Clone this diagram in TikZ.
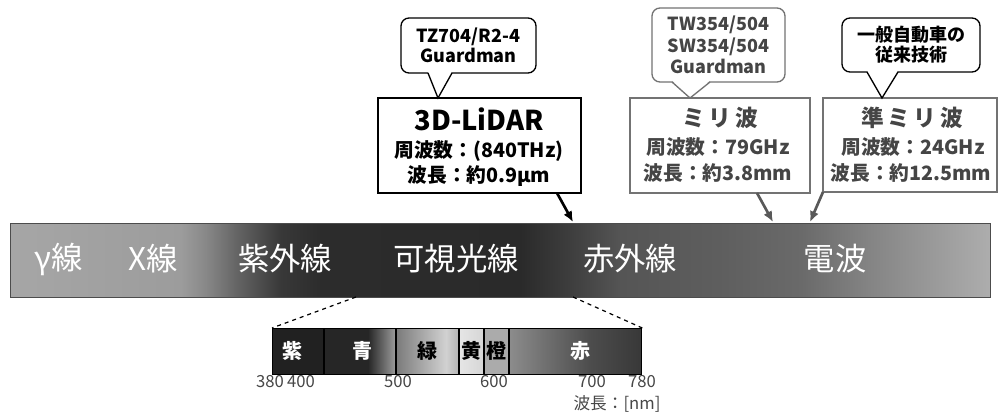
\documentclass[tikz,border=0pt]{standalone}
\usepackage{fontspec}
\setmainfont{Noto Sans CJK JP}
\usetikzlibrary{arrows.meta,calc}
\definecolor{ga}{gray}{0.651}
\definecolor{gb}{gray}{0.612}
\definecolor{gc}{gray}{0.533}
\definecolor{gd}{gray}{0.376}
\definecolor{ge}{gray}{0.22}
\definecolor{gf}{gray}{0.173}
\definecolor{gg}{gray}{0.165}
\definecolor{gh}{gray}{0.235}
\definecolor{gi}{gray}{0.333}
\definecolor{gj}{gray}{0.37}
\definecolor{gk}{gray}{0.415}
\definecolor{gl}{gray}{0.52}
\definecolor{gm}{gray}{0.6}
\definecolor{gn}{gray}{0.68}
\definecolor{softtext}{gray}{0.27}
\definecolor{softline}{gray}{0.45}
\pgfdeclarehorizontalshading{mainbar}{100bp}{color(0bp)=(ga); color(25bp)=(ga); color(33.67bp)=(gb); color(34.95bp)=(gc); color(36.73bp)=(gd); color(38.78bp)=(ge); color(40.82bp)=(gf); color(51.02bp)=(gg); color(53.32bp)=(gh); color(56.12bp)=(gi); color(61.22bp)=(gj); color(65.31bp)=(gk); color(68.88bp)=(gl); color(71.94bp)=(gm); color(75bp)=(gn); color(100bp)=(gn)}
\tikzset{
  callout/.style={draw, fill=white, rounded corners=6pt, line width=1pt, inner sep=0pt, align=center, font=\bfseries\fontsize{13.5}{15}\selectfont},
  infobox/.style={draw, fill=white, line width=1.5pt, inner sep=0pt},
  boxtitle/.style={anchor=base, inner sep=0pt, font=\bfseries\fontsize{20.5}{24}\selectfont},
  boxtitlejp/.style={anchor=base, inner sep=0pt, font=\bfseries\fontsize{17}{20}\selectfont},
  boxbody/.style={anchor=base, inner sep=0pt, font=\bfseries\fontsize{14.8}{17}\selectfont},
  barlabel/.style={text=white, inner sep=0pt, font=\fontsize{23.5}{27}\selectfont},
  seglabel/.style={inner sep=0pt, font=\bfseries\fontsize{15}{18}\selectfont},
  ticklabel/.style={inner sep=0pt, text=black!72, font=\fontsize{12.5}{14}\selectfont},
  pointer/.style={line width=2pt, -{Latex[length=8pt,width=7pt]}},
  tail/.style={line width=1pt},
}
\begin{document}
\begin{tikzpicture}[x=0.75pt,y=-0.75pt]
\useasboundingbox (0,0) rectangle (1000,414);
\fill[white] (0,0) rectangle (1000,414);

% main spectrum bar
\node[draw=black!70, line width=1.1pt, shading=mainbar, minimum width=735pt, minimum height=55.5pt, inner sep=0pt, anchor=north west] (bar) at (10,223) {};
\node[barlabel] (lgamma) at (59,259) {γ線};
\node[barlabel] (lx) at (153,259) {X線};
\node[barlabel] (luv) at (285,259) {紫外線};
\node[barlabel] (lvis) at (456,259) {可視光線};
\node[barlabel] (lir) at (630,259) {赤外線};
\node[barlabel] (lradio) at (835,259) {電波};

% info boxes
\node[infobox, minimum width=152.25pt, minimum height=71.25pt] (lidar) at (479.5,145.5) {};
\node[boxtitle] (lidart) at (479,130) {3D-LiDAR};
\node[boxbody] (lidarf) at (479,157) {周波数：(840THz)};
\node[boxbody] (lidarw) at (479,182) {波長：約0.9μm};

\node[infobox, draw=softline, minimum width=135pt, minimum height=71.25pt] (mm) at (720,145.5) {};
\node[boxtitlejp, text=softtext] (mmt) at (720,126) {ミ\,リ\,波};
\node[boxbody, text=softtext] (mmf) at (718,154) {周波数：79GHz};
\node[boxbody, text=softtext] (mmw) at (718,180) {波長：約3.8mm};

\node[infobox, draw=softline, minimum width=130.5pt, minimum height=70.5pt] (qmm) at (910,145) {};
\node[boxtitlejp, text=softtext] (qmmt) at (912,126) {準\,ミ\,リ\,波};
\node[boxbody, text=softtext] (qmmf) at (913,154) {周波数：24GHz};
\node[boxbody, text=softtext] (qmmw) at (911,180) {波長：約12.5mm};

% callouts
\node[callout, minimum width=101.25pt, minimum height=41.25pt] (c1) at (468.5,45.5) {TZ704/R2-4\\Guardman};
\node[callout, draw=softline, text=softtext, minimum width=99.75pt, minimum height=55.5pt, font=\bfseries\fontsize{13.5}{16}\selectfont] (c2) at (718.5,45) {TW354/504\\SW354/504\\Guardman};
\node[callout, minimum width=103.5pt, minimum height=40.5pt] (c3) at (911,45) {一般自動車の\\従来技術};

% callout tails
\coordinate (c1a) at (428,73); \coordinate (c1b) at (452,73); \coordinate (c1t) at (438,98);
\coordinate (c2a) at (672,82); \coordinate (c2b) at (710,82); \coordinate (c2t) at (690,98);
\coordinate (c3a) at (867,72); \coordinate (c3b) at (898,72); \coordinate (c3t) at (882,98);
\fill[white] ($(c1a)+(0,-1.5)$) -- (c1t) -- ($(c1b)+(0,-1.5)$) -- cycle;
\draw[tail] (c1a) -- (c1t) -- (c1b);
\fill[white] ($(c2a)+(0,-1.5)$) -- (c2t) -- ($(c2b)+(0,-1.5)$) -- cycle;
\draw[tail, draw=softline] (c2a) -- (c2t) -- (c2b);
\fill[white] ($(c3a)+(0,-1.5)$) -- (c3t) -- ($(c3b)+(0,-1.5)$) -- cycle;
\draw[tail] (c3a) -- (c3t) -- (c3b);

% pointers to the bar
\coordinate (p1s) at (557,193); \coordinate (p1e) at (573,222);
\coordinate (p2s) at (757,193); \coordinate (p2e) at (773,222);
\coordinate (p3s) at (823,192); \coordinate (p3e) at (810,222);
\draw[pointer] (p1s) -- (p1e);
\draw[pointer, draw=black!65, fill=black!65] (p2s) -- (p2e);
\draw[pointer, draw=black!65, fill=black!65] (p3s) -- (p3e);

% visible spectrum
\fill[black!87] (272,328) rectangle (324,374);
\fill[black!85] (324,328) rectangle (368,374);
\shade[left color=black!85, right color=black!38] (368,328) rectangle (396,374);
\shade[left color=black!52, right color=black!18] (396,328) rectangle (446,374);
\shade[left color=black!18, right color=black!30] (446,328) rectangle (459,374);
\shade[left color=black!10, right color=black!16] (459,328) rectangle (484,374);
\fill[black!33] (484,328) rectangle (509,374);
\shade[left color=black!45, right color=black!70] (509,328) rectangle (590,374);
\shade[left color=black!70, right color=black!78] (590,328) rectangle (641,374);
\node[draw, line width=1pt, minimum width=276.75pt, minimum height=34.5pt, inner sep=0pt, anchor=north west] (vis) at (272,328) {};
\foreach \xx in {324,396,459,484,509} \draw[line width=0.8pt] (\xx,328) -- (\xx,374);
\node[seglabel, text=white] (sv) at (292,351) {紫};
\node[seglabel, text=white] (sb) at (362,351) {青};
\node[seglabel] (sg) at (427,351) {緑};
\node[seglabel] (sy) at (471,351) {黄};
\node[seglabel] (so) at (496,351) {橙};
\node[seglabel, text=white] (sr) at (580,351) {赤};

\coordinate (d1) at (356,297); \coordinate (d2) at (573,297);
\draw[dashed, line width=0.9pt] (d1) -- (vis.north west);
\draw[dashed, line width=0.9pt] (d2) -- (vis.north east);

\node[ticklabel] (t380) at (270,382) {380};
\node[ticklabel] (t400) at (301,382) {400};
\node[ticklabel] (t500) at (398,382) {500};
\node[ticklabel] (t600) at (494,382) {600};
\node[ticklabel] (t700) at (592,382) {700};
\node[ticklabel] (t780) at (642,382) {780};
\node[ticklabel] (unit) at (617,404) {波長：[nm]};
\end{tikzpicture}
\end{document}
